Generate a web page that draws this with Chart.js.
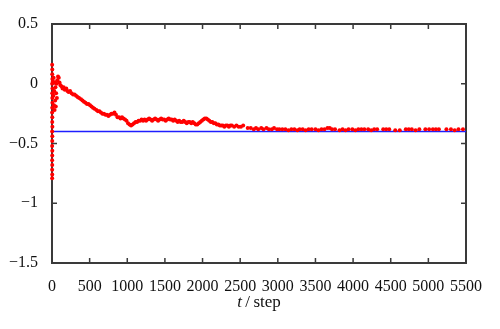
<!DOCTYPE html>
<html>
<head>
<meta charset="utf-8">
<script src="https://cdn.jsdelivr.net/npm/chart.js@4.4.1/dist/chart.umd.min.js"></script>
<style>
  html, body { margin: 0; padding: 0; background: #fff; }
  #wrap { width: 500px; height: 329px; }
</style>
</head>
<body>
<div id="wrap"><canvas id="chart"></canvas></div>
<script>
// simulation steps and the tracked value (red dots)
const tSteps = [
  2, 4, 3, 5, 2, 6, 3, 4, 5, 3, 2, 4, 3, 5, 2, 4, 3, 2, 4, 3, 2, 3, 2, 3, 2,
  12, 18, 22, 26, 30, 34, 38, 42, 46, 50, 55, 60, 65, 70,
  80, 90, 100, 110, 125, 140, 155, 170, 190, 205, 220, 240, 260, 280, 300, 320, 340, 360, 385, 405,
  425, 445, 465, 485, 505, 525, 545, 565, 590, 610, 630, 650, 670, 690, 710, 730, 750, 770, 790, 810,
  830, 850, 870, 890, 910, 930, 950, 970, 990, 1010, 1030, 1050, 1070, 1090, 1110, 1130, 1150, 1170,
  1190, 1210, 1230, 1250, 1270, 1290, 1310, 1330, 1350, 1370, 1390, 1410, 1430, 1450, 1470, 1490,
  1510, 1530, 1550, 1570, 1590, 1610, 1630, 1650, 1670, 1690, 1710, 1730, 1750, 1770, 1790, 1810,
  1830, 1850, 1870, 1890, 1910, 1930, 1950, 1970, 1990, 2010, 2030, 2050, 2070, 2090, 2110, 2130,
  2150, 2170, 2190, 2210, 2230, 2250, 2270, 2290, 2310, 2330, 2350, 2370, 2390, 2420, 2450, 2480,
  2510, 2540, 2600, 2640, 2680, 2710, 2740, 2780, 2810, 2850, 2880, 2920, 2950, 2990, 3020, 3060,
  3100, 3140, 3180, 3220, 3260, 3290, 3330, 3370, 3410, 3450, 3500, 3540, 3580, 3620, 3660, 3690,
  3720, 3760, 3820, 3860, 3900, 3940, 3990, 4030, 4070, 4110, 4150, 4200, 4240, 4280, 4320, 4400,
  4440, 4480, 4560, 4620, 4700, 4740, 4780, 4830, 4880, 4960, 5010, 5060, 5100, 5140, 5240, 5300,
  5350, 5400, 5460
];
const stepValues = [
  0.16, 0.12, 0.08, 0.04, 0.0, -0.04, -0.08, -0.12, -0.16, -0.2, -0.24, -0.28, -0.32, -0.36, -0.40, -0.44, -0.48, -0.52, -0.56, -0.60, -0.64, -0.68, -0.72, -0.76, -0.79,
  0.02, -0.10, 0.05, -0.18, -0.06, -0.22, 0.01, -0.14, -0.03, -0.19, -0.08, 0.00, -0.12, 0.03,
  0.06, 0.05, 0.01, -0.01, -0.02, -0.04, -0.03, -0.05, -0.04, -0.06, -0.07, -0.06, -0.08, -0.09, -0.09, -0.10, -0.11, -0.12, -0.13, -0.14,
  -0.15, -0.16, -0.17, -0.17, -0.18, -0.19, -0.20, -0.21, -0.22, -0.23, -0.23, -0.24, -0.25, -0.25, -0.26, -0.26, -0.27, -0.26, -0.25, -0.25,
  -0.24, -0.26, -0.28, -0.28, -0.29, -0.28, -0.29, -0.30, -0.31, -0.33, -0.34, -0.35, -0.34, -0.33, -0.32, -0.32, -0.31, -0.31,
  -0.30, -0.31, -0.30, -0.31, -0.30, -0.29, -0.30, -0.31, -0.30, -0.29, -0.30, -0.31, -0.30, -0.29, -0.30, -0.30,
  -0.31, -0.30, -0.29, -0.30, -0.30, -0.31, -0.30, -0.31, -0.32, -0.31, -0.32, -0.32, -0.31, -0.32, -0.33, -0.32,
  -0.32, -0.33, -0.32, -0.33, -0.34, -0.34, -0.33, -0.32, -0.31, -0.30, -0.29, -0.29, -0.30, -0.31, -0.32, -0.32,
  -0.33, -0.33, -0.34, -0.34, -0.35, -0.35, -0.35, -0.36, -0.35, -0.35, -0.36, -0.35, -0.35, -0.36, -0.35, -0.36,
  -0.36, -0.35, -0.37, -0.37, -0.38, -0.37, -0.38, -0.37, -0.38, -0.37, -0.38, -0.38, -0.37, -0.38, -0.38, -0.38,
  -0.38, -0.39, -0.38, -0.38, -0.39, -0.38, -0.38, -0.39, -0.38, -0.38, -0.38, -0.39, -0.38, -0.38, -0.37, -0.37,
  -0.38, -0.38, -0.39, -0.38, -0.39, -0.38, -0.38, -0.39, -0.38, -0.38, -0.38, -0.38, -0.39, -0.38, -0.38, -0.38,
  -0.38, -0.38, -0.39, -0.39, -0.38, -0.38, -0.38, -0.39, -0.38, -0.38, -0.38, -0.38, -0.38, -0.38, -0.38, -0.38,
  -0.39, -0.38, -0.38
];

// reference level (blue line)
const refSteps = [0, 5500];
const refValues = [-0.4, -0.4];

const xTicks = [0, 500, 1000, 1500, 2000, 2500, 3000, 3500, 4000, 4500, 5000, 5500];
const yTicks = [-1.5, -1, -0.5, 0, 0.5];

const serif = "'Liberation Serif', 'DejaVu Serif', serif";
const axisColor = '#3a3a3a';

function fmtY(v) {
  return v < 0 ? '\u2212' + Math.abs(v) : String(v);
}

// box around the plot with inward ticks (under the dots), then the x axis title
const framePlugin = {
  id: 'frame',
  beforeDatasetsDraw(chart) {
    const { ctx, chartArea: a, scales } = chart;
    const len = 5;
    ctx.save();
    ctx.strokeStyle = axisColor;
    ctx.lineWidth = 2;
    ctx.strokeRect(a.left, a.top, a.right - a.left, a.bottom - a.top);
    ctx.lineWidth = 1.5;
    ctx.beginPath();
    xTicks.forEach(v => {
      const x = scales.x.getPixelForValue(v);
      ctx.moveTo(x, a.bottom); ctx.lineTo(x, a.bottom - len);
      ctx.moveTo(x, a.top); ctx.lineTo(x, a.top + len);
    });
    yTicks.forEach(v => {
      const y = scales.y.getPixelForValue(v);
      ctx.moveTo(a.left, y); ctx.lineTo(a.left + len, y);
      ctx.moveTo(a.right, y); ctx.lineTo(a.right - len, y);
    });
    ctx.stroke();
    ctx.restore();
  },
  afterDraw(chart) {
    const { ctx, chartArea: a } = chart;
    // "t / step" with italic t
    const cx = (a.left + a.right) / 2;
    const ty = 303;
    ctx.save();
    ctx.fillStyle = '#111';
    ctx.textBaseline = 'middle';
    ctx.font = 'italic 17px ' + serif;
    const tW = ctx.measureText('t').width;
    ctx.font = '17px ' + serif;
    const rest = '\u2009/\u2009step';
    const rW = ctx.measureText(rest).width;
    const x0 = cx - (tW + rW) / 2;
    ctx.textAlign = 'left';
    ctx.font = 'italic 17px ' + serif;
    ctx.fillText('t', x0, ty);
    ctx.font = '17px ' + serif;
    ctx.fillText(rest, x0 + tW, ty);
    ctx.restore();
  }
};

new Chart(document.getElementById('chart'), {
  type: 'scatter',
  data: {
    datasets: [
      {
        label: 'value',
        data: tSteps.map((t, i) => ({ x: t, y: stepValues[i] })),
        showLine: false,
        pointRadius: 2,
        pointBackgroundColor: '#ff0000',
        pointBorderWidth: 0,
        clip: false,
        order: 1
      },
      {
        label: 'reference',
        data: refSteps.map((t, i) => ({ x: t, y: refValues[i] })),
        showLine: true,
        borderColor: '#1e1eff',
        borderWidth: 1.6,
        pointRadius: 0,
        order: 2
      }
    ]
  },
  options: {
    responsive: true,
    maintainAspectRatio: false,
    animation: false,
    layout: { padding: { top: 24, right: 34, left: 0, bottom: 0 } },
    plugins: {
      legend: { display: false },
      tooltip: { enabled: false }
    },
    scales: {
      x: {
        type: 'linear',
        min: 0,
        max: 5500,
        afterBuildTicks: s => { s.ticks = xTicks.map(v => ({ value: v })); },
        afterFit: s => { s.height = 66; },
        grid: { display: false },
        border: { display: false },
        ticks: {
          padding: 6,
          color: '#111',
          font: { family: serif, size: 16 },
          maxRotation: 0,
          autoSkip: false,
          callback: v => String(v)
        }
      },
      y: {
        type: 'linear',
        min: -1.5,
        max: 0.5,
        afterBuildTicks: s => { s.ticks = yTicks.map(v => ({ value: v })); },
        afterFit: s => { s.width = 52; },
        grid: { display: false },
        border: { display: false },
        ticks: {
          padding: 6,
          color: '#111',
          font: { family: serif, size: 16 },
          autoSkip: false,
          callback: v => fmtY(v)
        }
      }
    }
  },
  plugins: [framePlugin]
});
</script>
</body>
</html>
